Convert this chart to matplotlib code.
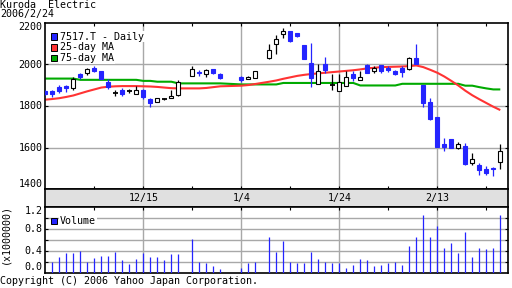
import matplotlib
matplotlib.use('Agg')
import matplotlib.pyplot as plt
from matplotlib.patches import Rectangle

# ---------------- data (weekday index from 2005/11/28) ----------------
days = [-1, 0, 1, 2, 3, 4, 5, 6, 7, 8, 9, 10, 11, 12, 13, 14, 15, 16, 17, 18,
        20, 21, 22, 23, 24, 27, 28, 29,
        31, 32, 33, 34, 35, 36, 37, 38, 39, 40, 41, 42, 43, 44, 45, 46, 47, 48, 49,
        50, 51, 52, 53, 54, 55, 56, 57, 58, 59, 60, 61, 62, 63, 64]
opens = [1870, 1870, 1890, 1895, 1886, 1954, 1956, 1984, 1968, 1917, 1862, 1878, 1873, 1859, 1878, 1833, 1820, 1833, 1836, 1852,
         1943, 1963, 1954, 1976, 1951, 1938, 1927, 1932,
         2028, 2098, 2146, 2158, 2150, 2093, 2005, 1906, 2000, 1899, 1872, 1896, 1951, 1925, 1995, 1966, 1995, 1980, 1967,
         1980, 1979, 2028, 1902, 1821, 1745, 1615, 1639, 1600, 1610, 1528, 1517, 1499, 1504, 1530]
highs = [1874, 1878, 1898, 1898, 1940, 1959, 1984, 1992, 1968, 1927, 1878, 1886, 1881, 1894, 1881, 1837, 1837, 1837, 1878, 1922,
         1989, 1972, 1979, 1976, 1959, 1943, 1943, 1969,
         2098, 2141, 2174, 2161, 2150, 2093, 2102, 2000, 2033, 1951, 1951, 1967, 1967, 1967, 2000, 1992, 1995, 1989, 1972,
         1992, 2036, 2098, 1902, 1837, 1745, 1647, 1639, 1626, 1621, 1572, 1528, 1512, 1509, 1615]
lows = [1853, 1842, 1862, 1865, 1875, 1930, 1948, 1963, 1927, 1883, 1846, 1849, 1862, 1859, 1833, 1797, 1820, 1830, 1836, 1849,
        1943, 1945, 1940, 1951, 1927, 1914, 1927, 1932,
        2024, 2049, 2125, 2106, 2130, 2026, 1889, 1906, 1959, 1875, 1872, 1896, 1919, 1925, 1956, 1959, 1959, 1963, 1946,
        1940, 1972, 2000, 1794, 1732, 1605, 1582, 1597, 1593, 1515, 1517, 1470, 1470, 1462, 1498]
closes = [1856, 1855, 1873, 1887, 1930, 1940, 1979, 1968, 1930, 1889, 1862, 1859, 1873, 1878, 1842, 1816, 1837, 1833, 1849, 1917,
          1979, 1958, 1971, 1959, 1935, 1922, 1937, 1965,
          2070, 2119, 2158, 2109, 2135, 2026, 1933, 1967, 1971, 1899, 1915, 1940, 1933, 1940, 1959, 1984, 1967, 1971, 1951,
          1963, 2028, 2000, 1813, 1737, 1605, 1605, 1600, 1615, 1520, 1543, 1494, 1480, 1496, 1585]
volumes = [None, 0.19, 0.29, 0.36, 0.36, 0.39, 0.19, 0.27, 0.31, 0.31, 0.38, 0.22, 0.16, 0.25, 0.35, 0.29, 0.29, 0.22, 0.33, 0.33,
           0.62, 0.20, 0.18, 0.11, 0.055, 0.09, 0.18, 0.20,
           0.64, 0.38, 0.58, 0.20, 0.17, 0.18, 0.37, 0.24, 0.20, 0.18, 0.17, 0.09, 0.145, 0.24, 0.22, 0.11, 0.13, 0.17, 0.20,
           0.145, 0.49, 0.65, 1.04, 0.64, 0.84, 0.45, 0.53, 0.35, 0.73, 0.29, 0.45, 0.42, 0.45, 1.05]
ma25 = [1830, 1833, 1837, 1843, 1850, 1860, 1870, 1879, 1888, 1892, 1894, 1895, 1895, 1895, 1894, 1893, 1891, 1888, 1885, 1884,
        1884, 1884, 1886, 1890, 1894, 1897, 1900, 1905,
        1916, 1922, 1930, 1937, 1944, 1949, 1953, 1956, 1959, 1962, 1965, 1968, 1971, 1975, 1980, 1983, 1986, 1987, 1988,
        1989, 1991, 1994, 1986, 1973, 1959, 1941, 1920, 1898, 1873, 1851, 1832, 1814, 1796, 1780]
ma75 = [1931, 1931, 1931, 1931, 1931, 1925, 1925, 1925, 1925, 1925, 1925, 1925, 1925, 1925, 1920, 1920, 1916, 1916, 1916, 1908,
        1908, 1908, 1908, 1908, 1908, 1903, 1903, 1903,
        1903, 1903, 1910, 1910, 1910, 1910, 1910, 1910, 1910, 1910, 1910, 1910, 1910, 1898, 1898, 1898, 1898, 1898, 1898,
        1906, 1906, 1906, 1906, 1906, 1906, 1906, 1906, 1906, 1897, 1897, 1890, 1884, 1879, 1879]
date_ticks = [13, 27, 41, 55]
date_labels = ['12/15', '1/4', '1/24', '2/13']
minor_ticks = [6, 20, 34, 48, 62]
price_labels = [2200, 2000, 1800, 1600, 1400]
vol_labels = ['1.2', '0.8', '0.4', '0.0']

# ---------------- styling ----------------
W, H = 512, 288
fig = plt.figure(figsize=(W / 100, H / 100), dpi=100)
MONO = 'DejaVu Sans Mono'
FS = 7.2
BLUE = '#2424ff'
RED = '#ff3333'
GREEN = '#00aa00'
GRID = '#a8a8a8'
XL, XR = 45, 507.5
MT, MB = 22.5, 189.3
VT, VB = 206.7, 272.5
XLIM = (-1.043, 65.03)


def fx(px):
    return px / W


def fy(py):
    return 1 - py / H


def box(x0, x1, ytop, ybot):
    return [fx(x0), fy(ybot), fx(x1) - fx(x0), fy(ytop) - fy(ybot)]


ax = fig.add_axes(box(XL, XR, MT, MB))
band = fig.add_axes(box(XL, XR, MB, VT))
axv = fig.add_axes(box(XL, XR, VT, VB))

for a in (ax, band, axv):
    a.set_xlim(*XLIM)
    for s in a.spines.values():
        s.set_linewidth(1.2)
        s.set_color('black')

# main price panel
ax.set_ylim(1400, 2200)
for y in (1600, 1800, 2000):
    ax.axhline(y, color=GRID, lw=1.0, zorder=0)
for x in date_ticks:
    ax.axvline(x, color=GRID, lw=1.0, zorder=0)
ax.set_xticks(sorted(date_ticks + minor_ticks))
ax.set_yticks([1600, 1800, 2000])
ax.tick_params(axis='both', direction='in', length=2.5, width=0.8,
               top=True, bottom=True, left=True, right=True,
               labelbottom=False, labelleft=False)

ax.plot(days, ma75, color=GREEN, lw=1.5, zorder=2, solid_capstyle='butt')
ax.plot(days, ma25, color=RED, lw=1.5, zorder=2, solid_capstyle='butt')

BW = 0.62
for d, o, h, l, c in zip(days, opens, highs, lows, closes):
    if c < o:
        col, fc = BLUE, BLUE
    else:
        col, fc = 'black', 'white'
    ax.vlines(d, l, h, color=col, lw=0.9, zorder=3)
    if c == o:
        ax.hlines(o, d - 0.38, d + 0.38, color='black', lw=1.3, zorder=4)
    else:
        ax.add_patch(Rectangle((d - BW / 2, min(o, c)), BW, abs(c - o),
                               facecolor=fc, edgecolor=col, lw=0.8, zorder=4))

# grey date band
band.set_facecolor('#e0e0e0')
band.set_xticks([])
band.set_yticks([])
band.set_ylim(0, 1)
for x, lab in zip(date_ticks, date_labels):
    band.text(x, 0.5, lab, ha='center', va='center', fontsize=FS, family=MONO)

# volume panel
axv.set_ylim(0, 1.2)
for y in (0.2, 0.4, 0.6, 0.8, 1.0):
    axv.axhline(y, color=GRID, lw=1.0, zorder=0)
for x in date_ticks:
    axv.axvline(x, color=GRID, lw=1.0, zorder=0)
axv.set_xticks(sorted(date_ticks + minor_ticks))
axv.set_yticks([0.2, 0.4, 0.6, 0.8, 1.0])
axv.tick_params(axis='both', direction='in', length=2.5, width=0.8,
                top=True, bottom=True, left=True, right=True,
                labelbottom=False, labelleft=False)
vd = [d for d, v in zip(days, volumes) if v is not None]
vv = [v for v in volumes if v is not None]
axv.vlines(vd, 0, vv, color=BLUE, lw=0.9, zorder=3)

# ---------------- texts ----------------
fig.text(0, fy(5.5), 'Kuroda  Electric', ha='left', va='center', fontsize=FS, family=MONO)
fig.text(0, fy(14.5), '2006/2/24', ha='left', va='center', fontsize=FS, family=MONO)

price_y = [26.7, 65, 106, 147.7, 184]
for p, y in zip(price_labels, price_y):
    fig.text(fx(42.5), fy(y), str(p), ha='right', va='center', fontsize=FS, family=MONO)

vol_y = [210.7, 229.3, 251, 267]
for lab, y in zip(vol_labels, vol_y):
    fig.text(fx(42.5), fy(y), lab, ha='right', va='center', fontsize=FS, family=MONO)
fig.text(fx(5.5), fy(234), '(x1000000)', rotation=90, ha='center', va='center',
         fontsize=FS, family=MONO)

fig.text(0, fy(281.5), 'Copyright (C) 2006 Yahoo Japan Corporation.', ha='left', va='center',
         fontsize=FS, family=MONO)

# legends
legend_items = [('7517.T - Daily', BLUE, 36.5), ('25-day MA', RED, 47.5),
                ('75-day MA', GREEN, 58.3), ('Volume', BLUE, 220.5)]
for lab, col, y in legend_items:
    fig.add_artist(Rectangle((fx(51), fy(y + 3)), 6 / W, 6 / H, transform=fig.transFigure,
                             facecolor=col, edgecolor='black', lw=0.7, zorder=6))
    fig.text(fx(60), fy(y), lab, ha='left', va='center', fontsize=FS, family=MONO,
             zorder=5, bbox=dict(facecolor='white', edgecolor='none', pad=0.6))

fig.savefig('out.png', dpi=100)
